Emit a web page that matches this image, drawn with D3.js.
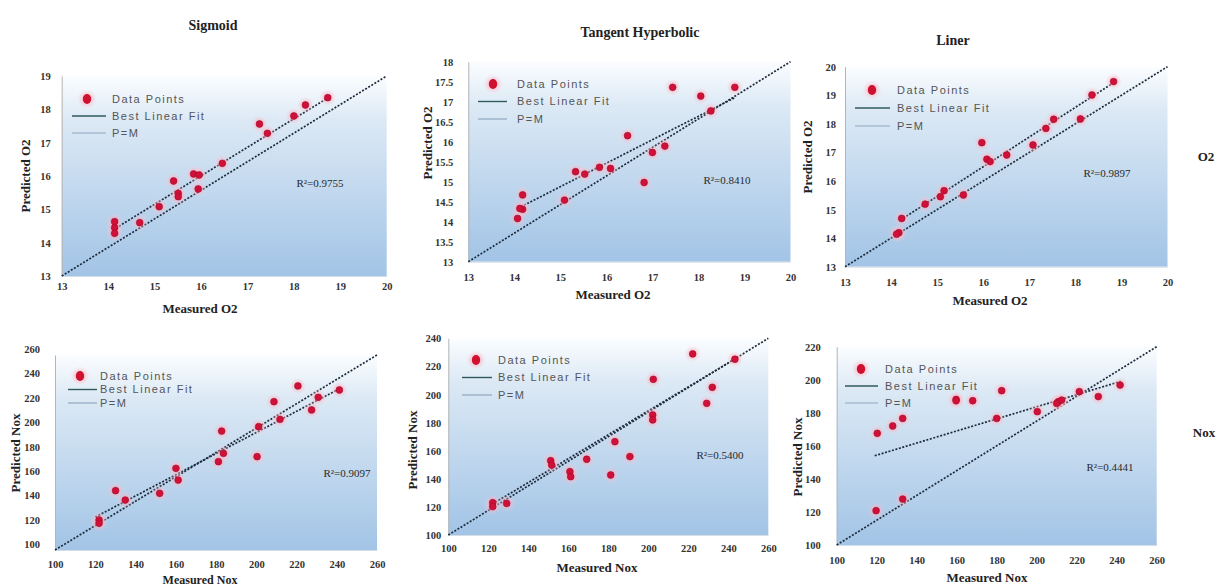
<!DOCTYPE html>
<html>
<head>
<meta charset="utf-8">
<script src="https://cdnjs.cloudflare.com/ajax/libs/d3/7.8.5/d3.min.js"></script>
<style>
  body { margin: 0; background: #fff; }
  svg { display: block; }
  .tick text { font-family: "Liberation Serif", "Times New Roman", serif; font-weight: bold; font-size: 10.5px; fill: #333; }
  .title, .axisTitle, .rowLabel { font-family: "Liberation Serif", "Times New Roman", serif; font-weight: bold; fill: #222; }
  .legendText { font-family: "Liberation Sans", Arial, sans-serif; font-size: 11px; fill: #555; letter-spacing: 1.5px; }
  .r2 { font-family: "Liberation Serif", "Times New Roman", serif; font-size: 11px; fill: #2a2a2a; }
</style>
</head>
<body>
<svg id="chart" width="1220" height="586"></svg>
<script>
// ---- data ----
const titles = ["Sigmoid", "Tangent Hyperbolic", "Liner"];
const rowLabels = ["O2", "Nox"];
const legendLabels = ["Data Points", "Best Linear Fit", "P=M"];
const r2Labels = ["R\u00b2=0.9755", "R\u00b2=0.8410", "R\u00b2=0.9897", "R\u00b2=0.9097", "R\u00b2=0.5400", "R\u00b2=0.4441"];

const o2XTicks = [13, 14, 15, 16, 17, 18, 19, 20];
const noxXTicks = [100, 120, 140, 160, 180, 200, 220, 240, 260];
const sigmoidO2YTicks = [13, 14, 15, 16, 17, 18, 19];
const tangentO2YTicks = [13, 13.5, 14, 14.5, 15, 15.5, 16, 16.5, 17, 17.5, 18];
const linerO2YTicks = [13, 14, 15, 16, 17, 18, 19, 20];
const sigmoidNoxYTicks = [100, 120, 140, 160, 180, 200, 220, 240, 260];
const tangentNoxYTicks = [100, 120, 140, 160, 180, 200, 220, 240];
const linerNoxYTicks = [100, 120, 140, 160, 180, 200, 220];

const sigmoidO2Measured  = [14.14, 14.14, 14.14, 14.68, 15.10, 15.41, 15.51, 15.51, 15.84, 15.96, 15.94, 16.46, 17.26, 17.43, 18.00, 18.25, 18.73];
const sigmoidO2Predicted = [14.63, 14.45, 14.28, 14.60, 15.08, 15.85, 15.48, 15.38, 16.06, 16.03, 15.61, 16.38, 17.56, 17.28, 17.80, 18.13, 18.35];
const sigmoidO2Fit = [[14.1, 14.38], [18.8, 18.4]];
const sigmoidO2PM = [[13, 13], [20, 19]];

const tangentO2Measured  = [17.44, 18.79, 18.05, 18.27, 16.46, 17.27, 17.00, 15.33, 15.53, 15.85, 16.09, 16.82, 15.09, 14.18, 14.18, 14.12, 14.07];
const tangentO2Predicted = [17.36, 17.36, 17.14, 16.77, 16.15, 15.89, 15.73, 15.25, 15.19, 15.36, 15.33, 14.98, 14.54, 14.67, 14.31, 14.33, 14.08];
const tangentO2Fit = [[14.07, 14.33], [18.79, 17.1]];
const tangentO2PM = [[13, 13], [20, 18]];

const linerO2Measured  = [18.83, 18.36, 18.11, 17.53, 17.36, 17.08, 16.51, 15.97, 16.08, 16.15, 15.57, 15.15, 15.07, 14.74, 14.23, 14.17, 14.12];
const linerO2Predicted = [19.48, 19.01, 18.17, 18.16, 17.84, 17.26, 16.91, 17.34, 16.76, 16.68, 15.51, 15.66, 15.45, 15.19, 14.69, 14.19, 14.14];
const linerO2Fit = [[14.2, 14.63], [18.87, 19.48]];
const linerO2PM = [[13, 13], [20, 20]];

const sigmoidNoxMeasured  = [220.7, 241.3, 230.8, 227.5, 208.8, 211.8, 201.2, 200.4, 182.8, 183.7, 181.2, 160.1, 161.2, 152.0, 130.1, 134.9, 121.9, 121.9];
const sigmoidNoxPredicted = [234.6, 231.3, 225.3, 214.9, 221.7, 207.2, 201.2, 176.6, 197.6, 179.3, 172.5, 167.0, 157.4, 146.5, 148.7, 141.0, 124.6, 121.9];
const sigmoidNoxFit = [[120, 127], [241, 232]];
const sigmoidNoxPM = [[100, 100], [260, 260]];

const tangentNoxMeasured  = [222.2, 243.3, 202.5, 232.0, 229.2, 202.2, 202.2, 183.3, 190.8, 181.2, 169.2, 151.2, 151.7, 160.8, 161.2, 122.2, 129.2, 122.2];
const tangentNoxPredicted = [228.9, 225.1, 210.8, 205.1, 193.7, 185.4, 181.9, 166.4, 155.8, 142.7, 153.9, 152.9, 149.8, 145.1, 141.5, 123.0, 122.5, 120.2];
const tangentNoxFit = [[122, 122], [243, 225]];
const tangentNoxPM = [[100, 100], [260, 240]];

const linerNoxMeasured  = [241.7, 230.8, 221.3, 210.8, 212.5, 210.0, 200.3, 182.5, 180.0, 168.0, 159.7, 159.7, 133.0, 128.0, 120.3, 133.0, 119.7];
const linerNoxPredicted = [196.8, 189.8, 192.8, 186.7, 187.7, 185.7, 180.7, 193.4, 176.6, 187.3, 188.1, 187.3, 176.6, 172.0, 167.6, 127.8, 120.8];
const linerNoxFit = [[119, 154], [242, 199]];
const linerNoxPM = [[100, 100], [260, 220]];

// ---- layout (pixels) ----
const layouts = [
  {x0: 61.7, x1: 386.7, yb: 276, yt: 76, yPad: 11, yShift: 0, xPad: 6.5, yTitle: [25, 176], xTitle: [200, 308], tSize: 13, leg: [87, 99, 17, 72, 106, 112], r2: [320, 183]},
  {x0: 468.3, x1: 790.5, yb: 261.7, yt: 61.7, yPad: 15, yShift: 0, xPad: 11.5, yTitle: [427, 143], xTitle: [613, 294], tSize: 13, leg: [493, 84, 17.5, 478, 507, 517], r2: [727, 180]},
  {x0: 845, x1: 1167.5, yb: 266.7, yt: 66.7, yPad: 9, yShift: 0, xPad: 11.5, yTitle: [807, 157], xTitle: [990, 300], tSize: 13, leg: [872, 90, 18, 855, 890, 897], r2: [1107, 173]},
  {x0: 55, x1: 377, yb: 550, yt: 355, yPad: 15, yShift: -6, xPad: 11, yTitle: [15, 453], xTitle: [200, 580], tSize: 12, leg: [80, 376, 13.5, 68, 97, 100], r2: [347, 473]},
  {x0: 448.3, x1: 768.3, yb: 535, yt: 338.3, yPad: 7, yShift: 0, xPad: 9.5, yTitle: [412, 450], xTitle: [597, 567], tSize: 13, leg: [476, 360, 17.5, 462, 492, 498], r2: [720, 455]},
  {x0: 836.7, x1: 1156.7, yb: 545, yt: 346.7, yPad: 16, yShift: 0, xPad: 11.5, yTitle: [797, 457], xTitle: [987, 577], tSize: 13, leg: [861, 369, 17, 845, 878, 885], r2: [1110, 467]}
];

const panels = [
  {title: titles[0], xs: sigmoidO2Measured, ys: sigmoidO2Predicted, fit: sigmoidO2Fit, pm: sigmoidO2PM, xt: o2XTicks, yt: sigmoidO2YTicks, xl: "Measured O2", yl: "Predicted O2"},
  {title: titles[1], xs: tangentO2Measured, ys: tangentO2Predicted, fit: tangentO2Fit, pm: tangentO2PM, xt: o2XTicks, yt: tangentO2YTicks, xl: "Measured O2", yl: "Predicted O2"},
  {title: titles[2], xs: linerO2Measured, ys: linerO2Predicted, fit: linerO2Fit, pm: linerO2PM, xt: o2XTicks, yt: linerO2YTicks, xl: "Measured O2", yl: "Predicted O2"},
  {title: null, xs: sigmoidNoxMeasured, ys: sigmoidNoxPredicted, fit: sigmoidNoxFit, pm: sigmoidNoxPM, xt: noxXTicks, yt: sigmoidNoxYTicks, xl: "Measured Nox", yl: "Predicted Nox"},
  {title: null, xs: tangentNoxMeasured, ys: tangentNoxPredicted, fit: tangentNoxFit, pm: tangentNoxPM, xt: noxXTicks, yt: tangentNoxYTicks, xl: "Measured Nox", yl: "Predicted Nox"},
  {title: null, xs: linerNoxMeasured, ys: linerNoxPredicted, fit: linerNoxFit, pm: linerNoxPM, xt: noxXTicks, yt: linerNoxYTicks, xl: "Measured Nox", yl: "Predicted Nox"}
];

const titlePos = [[213, 25], [640, 32], [953, 40]];
const rowLabelPos = [[1206, 156], [1204, 432]];

var svg = d3.select("#chart");
var defs = svg.append("defs");

var bg = defs.append("linearGradient").attr("id", "bgGrad").attr("x1", 0).attr("y1", 0).attr("x2", 0).attr("y2", 1);
bg.append("stop").attr("offset", "0%").attr("stop-color", "#fbfdff");
bg.append("stop").attr("offset", "22%").attr("stop-color", "#dce9f5");
bg.append("stop").attr("offset", "100%").attr("stop-color", "#a2c4e6");

var halo = defs.append("radialGradient").attr("id", "halo");
halo.append("stop").attr("offset", "0%").attr("stop-color", "#ff7f99").attr("stop-opacity", 0.6);
halo.append("stop").attr("offset", "60%").attr("stop-color", "#ffb3c2").attr("stop-opacity", 0.4);
halo.append("stop").attr("offset", "100%").attr("stop-color", "#ffd0da").attr("stop-opacity", 0);

function drawPanel(p, L, i) {
  var x = d3.scaleLinear().domain([p.xt[0], p.xt[p.xt.length - 1]]).range([L.x0, L.x1]);
  var y = d3.scaleLinear().domain([p.yt[0], p.yt[p.yt.length - 1]]).range([L.yb, L.yt]);
  var g = svg.append("g").attr("class", "panel-" + i);

  g.append("rect")
    .attr("x", L.x0).attr("y", L.yt)
    .attr("width", L.x1 - L.x0).attr("height", L.yb - L.yt)
    .attr("fill", "url(#bgGrad)");

  var yAxis = g.append("g").attr("transform", "translate(" + L.x0 + ",0)")
    .call(d3.axisLeft(y).tickValues(p.yt).tickSize(0).tickPadding(L.yPad).tickFormat(d3.format("")));
  yAxis.select(".domain").attr("stroke", "#b5b5b5");
  yAxis.selectAll(".tick text").attr("dy", (L.yShift + 3.5) + "px");

  var xAxis = g.append("g").attr("transform", "translate(0," + L.yb + ")")
    .call(d3.axisBottom(x).tickValues(p.xt).tickSize(0).tickPadding(L.xPad).tickFormat(d3.format("")));
  xAxis.select(".domain").attr("stroke", "#d5dde6");

  var line = d3.line().x(function (d) { return x(d[0]); }).y(function (d) { return y(d[1]); });
  g.append("path").attr("d", line(p.pm))
    .attr("fill", "none").attr("stroke", "#1d2b3b").attr("stroke-width", 1.7).attr("stroke-dasharray", "2,1.6");
  g.append("path").attr("d", line(p.fit))
    .attr("fill", "none").attr("stroke", "#1d2b3b").attr("stroke-width", 1.7).attr("stroke-dasharray", "2,1.6");

  var pts = d3.zip(p.xs, p.ys);
  g.selectAll("circle.halo").data(pts).enter().append("circle")
    .attr("class", "halo")
    .attr("cx", function (d) { return x(d[0]); })
    .attr("cy", function (d) { return y(d[1]); })
    .attr("r", 8.5).attr("fill", "url(#halo)");
  g.selectAll("circle.dot").data(pts).enter().append("circle")
    .attr("class", "dot")
    .attr("cx", function (d) { return x(d[0]); })
    .attr("cy", function (d) { return y(d[1]); })
    .attr("r", 3.4).attr("fill", "#cf1038").attr("stroke", "#a50c2c").attr("stroke-width", 0.6);

  // legend
  var lx = L.leg[0], ly = L.leg[1], gap = L.leg[2];
  g.append("circle").attr("cx", lx).attr("cy", ly).attr("r", 10).attr("fill", "url(#halo)");
  g.append("ellipse").attr("cx", lx).attr("cy", ly).attr("rx", 4.2).attr("ry", 5).attr("fill", "#d0102f");
  g.append("line").attr("x1", L.leg[3]).attr("x2", L.leg[4]).attr("y1", ly + gap).attr("y2", ly + gap)
    .attr("stroke", "#2f5a5c").attr("stroke-width", 1.4);
  g.append("line").attr("x1", L.leg[3]).attr("x2", L.leg[4]).attr("y1", ly + 2 * gap).attr("y2", ly + 2 * gap)
    .attr("stroke", "#8fa6bf").attr("stroke-width", 1.2);
  g.selectAll("text.legendText").data(legendLabels).enter().append("text")
    .attr("class", "legendText")
    .attr("x", L.leg[5])
    .attr("y", function (d, k) { return ly + k * gap; })
    .attr("dy", "0.35em")
    .text(function (d) { return d; });

  g.append("text").attr("class", "r2").attr("x", L.r2[0]).attr("y", L.r2[1]).attr("dy", "0.35em")
    .attr("text-anchor", "middle").text(r2Labels[i]);

  g.append("text").attr("class", "axisTitle").attr("font-size", L.tSize + "px")
    .attr("x", L.xTitle[0]).attr("y", L.xTitle[1]).attr("dy", "0.35em")
    .attr("text-anchor", "middle").text(p.xl);
  g.append("text").attr("class", "axisTitle").attr("font-size", "13px")
    .attr("transform", "translate(" + L.yTitle[0] + "," + L.yTitle[1] + ") rotate(-90)")
    .attr("dy", "0.35em").attr("text-anchor", "middle").text(p.yl);
}

panels.forEach(function (p, i) { drawPanel(p, layouts[i], i); });

svg.selectAll("text.title").data(titles).enter().append("text")
  .attr("class", "title").attr("font-size", "14px")
  .attr("x", function (d, i) { return titlePos[i][0]; })
  .attr("y", function (d, i) { return titlePos[i][1]; })
  .attr("dy", "0.35em").attr("text-anchor", "middle")
  .text(function (d) { return d; });

svg.selectAll("text.rowLabel").data(rowLabels).enter().append("text")
  .attr("class", "rowLabel").attr("font-size", "13px")
  .attr("x", function (d, i) { return rowLabelPos[i][0]; })
  .attr("y", function (d, i) { return rowLabelPos[i][1]; })
  .attr("dy", "0.35em").attr("text-anchor", "middle")
  .text(function (d) { return d; });
</script>
</body>
</html>
